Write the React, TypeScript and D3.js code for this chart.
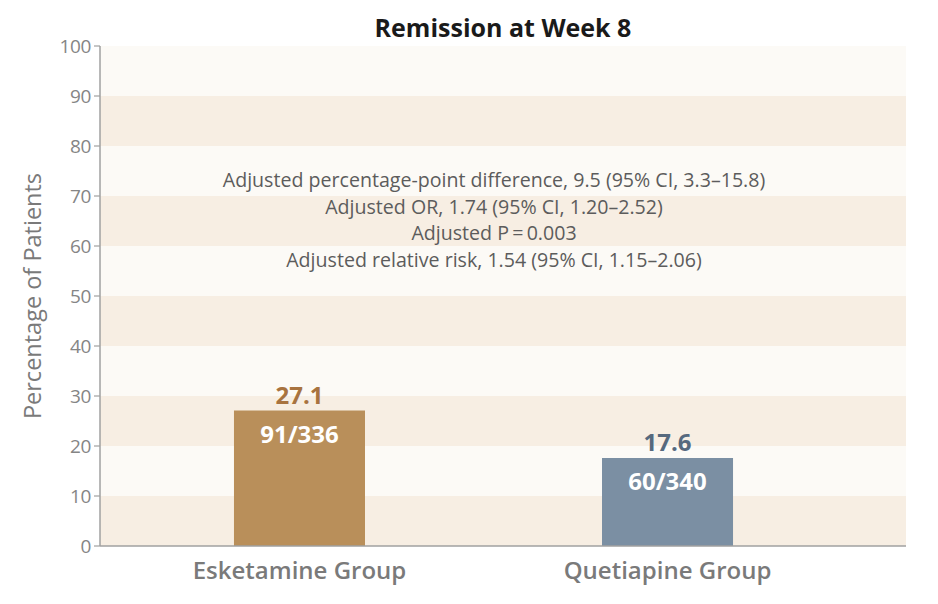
import React from "react";
import * as d3 from "d3";

const categories = ["Esketamine Group", "Quetiapine Group"];
const values = [27.1, 17.6];
const counts = ["91/336", "60/340"];
const yTicks = [0, 10, 20, 30, 40, 50, 60, 70, 80, 90, 100];
const annotations = [
  "Adjusted percentage-point difference, 9.5 (95% CI, 3.3\u201315.8)",
  "Adjusted OR, 1.74 (95% CI, 1.20\u20132.52)",
  "Adjusted P\u2009=\u20090.003",
  "Adjusted relative risk, 1.54 (95% CI, 1.15\u20132.06)",
];
const title = "Remission at Week 8";
const yLabel = "Percentage of Patients";

const barColors = ["#B98F5A", "#7B8FA3"];
const valueColors = ["#A8733F", "#56697E"];

export default function App() {
  const W = 938, H = 604;
  const left = 100, right = 906, top = 46, bottom = 546;
  const y = d3.scaleLinear().domain([0, 100]).range([bottom, top]);
  const x = d3
    .scaleBand<string>()
    .domain(categories)
    .range([left, 867])
    .paddingInner(0.644)
    .paddingOuter(0.364);
  const font = "'Open Sans', 'Noto Sans', sans-serif";
  const bands = d3.range(0, 100, 10);

  return (
    <svg
      width={W}
      height={H}
      style={{ position: "absolute", left: 0, top: 0, background: "#fff" }}
      fontFamily={font}
    >
      <text x={503} y={37} textAnchor="middle" fontWeight="bold" fontSize={25} fill="#1a1a1a">
        {title}
      </text>
      {bands.map((b) => (
        <rect
          key={b}
          x={left}
          y={y(b + 10)}
          width={right - left}
          height={y(b) - y(b + 10)}
          fill={(b / 10) % 2 === 0 ? "#F7EEE3" : "#FCFAF6"}
        />
      ))}
      {annotations.map((t, i) => (
        <text key={i} x={494} y={187 + i * 26.5} textAnchor="middle" fontSize={19.6} fill="#5c5c5c">
          {t}
        </text>
      ))}
      {categories.map((c, i) => (
        <g key={c}>
          <rect x={x(c)} y={y(values[i])} width={x.bandwidth()} height={bottom - y(values[i])} fill={barColors[i]} />
          <text
            x={(x(c) as number) + x.bandwidth() / 2}
            y={y(values[i]) - 7}
            textAnchor="middle"
            fontSize={24}
            fontWeight="bold"
            fill={valueColors[i]}
          >
            {values[i].toFixed(1)}
          </text>
          <text
            x={(x(c) as number) + x.bandwidth() / 2}
            y={y(values[i]) + 32}
            textAnchor="middle"
            fontSize={24}
            fontWeight="bold"
            fill="#ffffff"
          >
            {counts[i]}
          </text>
          <text
            x={(x(c) as number) + x.bandwidth() / 2}
            y={579}
            textAnchor="middle"
            fontSize={24}
            fontWeight={600}
            fill="#7a7a7a"
          >
            {c}
          </text>
        </g>
      ))}
      <line x1={left} x2={left} y1={top} y2={bottom} stroke="#a0a0a0" strokeWidth={1.5} />
      <line x1={left} x2={right} y1={bottom} y2={bottom} stroke="#a0a0a0" strokeWidth={1.5} />
      {yTicks.map((t) => (
        <g key={t}>
          <line x1={left - 6} x2={left} y1={y(t)} y2={y(t)} stroke="#a0a0a0" strokeWidth={1.2} />
          <text x={left - 9} y={y(t)} dy="0.35em" textAnchor="end" fontSize={19} fill="#858585" letterSpacing={-0.4}>
            {t}
          </text>
        </g>
      ))}
      <text
        transform={`translate(41, ${y(50)}) rotate(-90)`}
        textAnchor="middle"
        fontSize={23.5}
        fill="#7a7a7a"
      >
        {yLabel}
      </text>
    </svg>
  );
}
